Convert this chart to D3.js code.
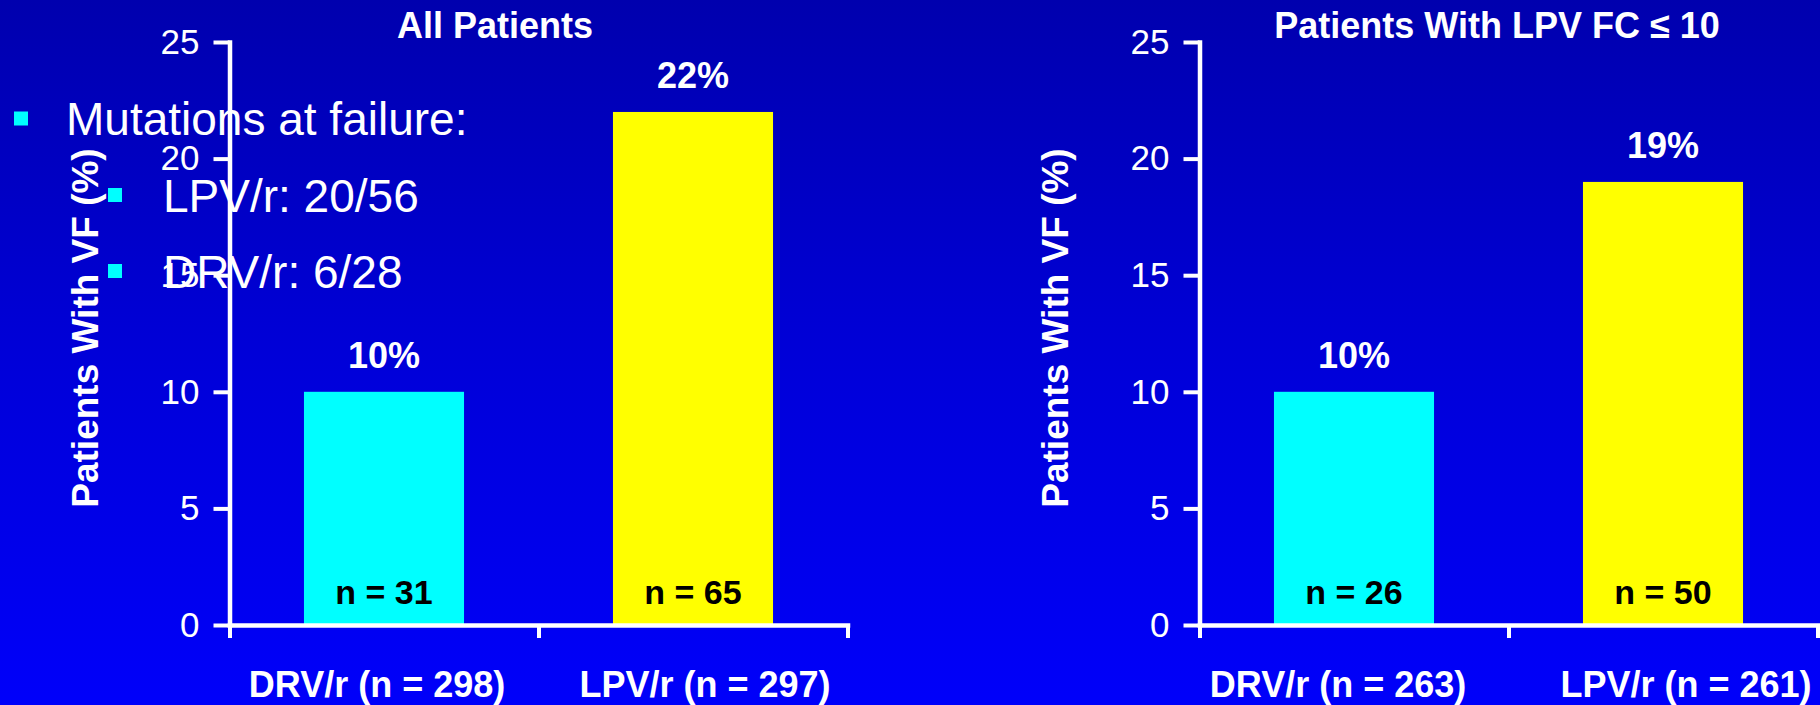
<!DOCTYPE html>
<html>
<head>
<meta charset="utf-8">
<script src="https://cdn.jsdelivr.net/npm/d3@7"></script>
<style>
  html, body { margin: 0; padding: 0; background: #0000c8; }
  svg { display: block; }
  text { font-family: "Liberation Sans", Arial, Helvetica, sans-serif; }
</style>
</head>
<body>
<svg id="chart" width="1820" height="705"></svg>
<script>
// ---- data ----
const treatments = ["DRV/r", "LPV/r"];
const panelTitles = ["All Patients", "Patients With LPV FC \u2264 10"];

const allPatientsTotal = [298, 297];
const allPatientsFailures = [31, 65];
const allPatientsPct = [10, 22];

const lowFcTotal = [263, 261];
const lowFcFailures = [26, 50];
const lowFcPct = [10, 19];

const yTickValues = [0, 5, 10, 15, 20, 25];
const yAxisTitle = "Patients With VF (%)";
const mutationNotes = ["Mutations at failure:", "LPV/r: 20/56", "DRV/r: 6/28"];

// ---- layout & style ----
const W = 1820, H = 705;
const barColors = ["#00FFFF", "#FFFF00"];
const FONT = '"Liberation Sans", Arial, Helvetica, sans-serif';
const plotTop = 42, plotBottom = 625;

const panels = [
  { title: panelTitles[0], total: allPatientsTotal, failures: allPatientsFailures, pct: allPatientsPct,
    x0: 229.5, x1: 847.5, titleX: 495, labelNudge: [-7, 12] },
  { title: panelTitles[1], total: lowFcTotal, failures: lowFcFailures, pct: lowFcPct,
    x0: 1199.5, x1: 1817.5, titleX: 1497, labelNudge: [-16, 23] }
];

const svg = d3.select("#chart");

// slide background: vertical blue gradient
const defs = svg.append("defs");
const grad = defs.append("linearGradient")
  .attr("id", "bg").attr("x1", 0).attr("y1", 0).attr("x2", 0).attr("y2", 1);
grad.append("stop").attr("offset", "0%").attr("stop-color", "#0000AE");
grad.append("stop").attr("offset", "50%").attr("stop-color", "#0000D8");
grad.append("stop").attr("offset", "100%").attr("stop-color", "#0000FA");
svg.append("rect").attr("width", W).attr("height", H).attr("fill", "url(#bg)");

const y = d3.scaleLinear().domain([0, 25]).range([plotBottom, plotTop]);
const pctFmt = d3.format(".0f");

panels.forEach(p => {
  const g = svg.append("g");

  const x = d3.scaleBand()
    .domain(treatments)
    .range([p.x0, p.x1])
    .paddingInner(0.482)
    .paddingOuter(0.241);

  // bars
  g.selectAll("rect.bar")
    .data(treatments)
    .join("rect")
    .attr("class", "bar")
    .attr("x", d => x(d))
    .attr("width", x.bandwidth())
    .attr("y", (d, i) => y(p.pct[i]))
    .attr("height", (d, i) => y(0) - y(p.pct[i]))
    .attr("fill", (d, i) => barColors[i]);

  // y axis
  const yAxis = g.append("g")
    .attr("transform", `translate(${p.x0},0)`)
    .call(d3.axisLeft(y).tickValues(yTickValues).tickSize(16).tickSizeOuter(0).tickPadding(14));
  yAxis.select(".domain").attr("stroke", "#fff").attr("stroke-width", 4.5).attr("stroke-linecap", "square");
  yAxis.selectAll(".tick line").attr("stroke", "#fff").attr("stroke-width", 4);
  yAxis.selectAll(".tick text")
    .attr("fill", "#fff").style("font-family", FONT).style("font-size", "35px");

  // x axis with ticks at the category boundaries
  const edge = d3.scaleLinear().domain([0, treatments.length]).range([p.x0, p.x1]);
  const xAxis = g.append("g")
    .attr("transform", `translate(0,${plotBottom})`)
    .call(d3.axisBottom(edge).tickValues(d3.range(treatments.length + 1)).tickSize(13).tickSizeOuter(0).tickFormat(""));
  xAxis.select(".domain").attr("stroke", "#fff").attr("stroke-width", 4.5).attr("stroke-linecap", "square");
  xAxis.selectAll(".tick line").attr("stroke", "#fff").attr("stroke-width", 4);

  // percentage labels above the bars
  g.selectAll("text.pct")
    .data(treatments)
    .join("text")
    .attr("class", "pct")
    .attr("x", d => x(d) + x.bandwidth() / 2)
    .attr("y", (d, i) => y(p.pct[i]) - 24)
    .attr("text-anchor", "middle")
    .attr("fill", "#fff")
    .style("font-weight", "bold").style("font-size", "36px")
    .text((d, i) => pctFmt(p.pct[i]) + "%");

  // failure counts inside the bars
  g.selectAll("text.count")
    .data(treatments)
    .join("text")
    .attr("class", "count")
    .attr("x", d => x(d) + x.bandwidth() / 2)
    .attr("y", 604)
    .attr("text-anchor", "middle")
    .attr("fill", "#000")
    .style("font-weight", "bold").style("font-size", "34px")
    .text((d, i) => "n = " + p.failures[i]);

  // category labels
  g.selectAll("text.cat")
    .data(treatments)
    .join("text")
    .attr("class", "cat")
    .attr("x", (d, i) => x(d) + x.bandwidth() / 2 + p.labelNudge[i])
    .attr("y", 697)
    .attr("text-anchor", "middle")
    .attr("fill", "#fff")
    .style("font-weight", "bold").style("font-size", "36px")
    .text((d, i) => `${d} (n = ${p.total[i]})`);

  // panel title
  g.append("text")
    .attr("x", p.titleX)
    .attr("y", 38)
    .attr("text-anchor", "middle")
    .attr("fill", "#fff")
    .style("font-weight", "bold").style("font-size", "36px")
    .text(p.title);

  // y axis title
  g.append("text")
    .attr("transform", `translate(${p.x0 - 132},328) rotate(-90)`)
    .attr("text-anchor", "middle")
    .attr("fill", "#fff")
    .style("font-weight", "bold").style("font-size", "37px")
    .text(yAxisTitle);
});

// bulleted notes laid over the first panel
const notes = svg.append("g");
const noteRows = mutationNotes.map((t, i) => ({
  text: t,
  level: i === 0 ? 0 : 1,
  baseline: [135, 211.5, 287.5][i]
}));
notes.selectAll("rect.bullet")
  .data(noteRows)
  .join("rect")
  .attr("class", "bullet")
  .attr("x", d => d.level === 0 ? 14 : 108)
  .attr("y", d => d.baseline - 23.5)
  .attr("width", 14)
  .attr("height", 14)
  .attr("fill", "#00FFFF");
notes.selectAll("text.note")
  .data(noteRows)
  .join("text")
  .attr("class", "note")
  .attr("x", d => d.level === 0 ? 66 : 163)
  .attr("y", d => d.baseline)
  .attr("fill", "#fff")
  .style("font-size", "46px")
  .text(d => d.text);
</script>
</body>
</html>
